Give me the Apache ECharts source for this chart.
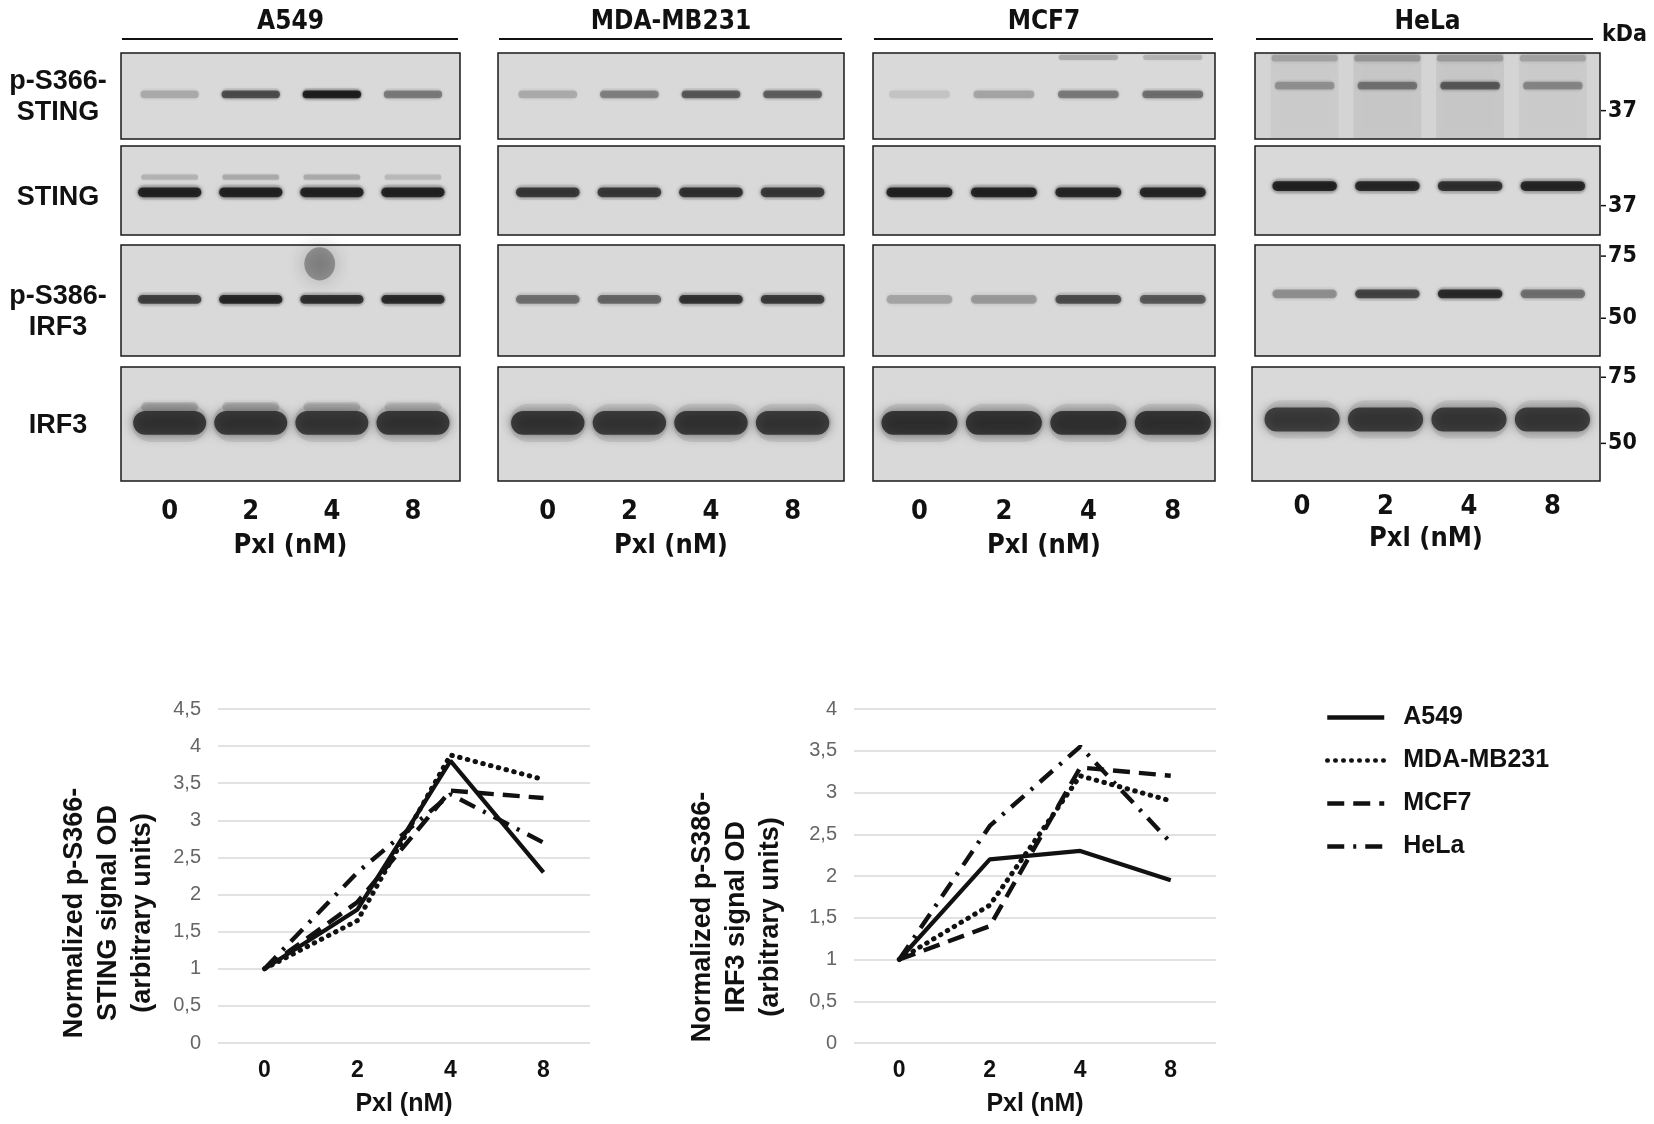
<!DOCTYPE html>
<html>
<head>
<meta charset="utf-8">
<script src="https://cdn.jsdelivr.net/npm/echarts@6/dist/echarts.min.js"></script>
<style>
  body { margin: 0; background: #fff; }
  #main { width: 1654px; height: 1124px; }
</style>
</head>
<body>
<div id="main"></div>
<script>
// ---- data ----
var doses = ['0', '2', '4', '8'];
var cellLines = ['A549', 'MDA-MB231', 'MCF7', 'HeLa'];
var rowLabels = ['p-S366-\nSTING', 'STING', 'p-S386-\nIRF3', 'IRF3'];

// band darkness per lane (0..1), one row per cell line
var pStingBands = [[0.22, 0.68, 0.97, 0.45], [0.22, 0.42, 0.62, 0.58], [0.10, 0.25, 0.45, 0.50], [0.30, 0.45, 0.58, 0.35]];
var stingBands  = [[0.95, 0.95, 0.95, 0.95], [0.80, 0.80, 0.85, 0.80], [0.95, 0.95, 0.92, 0.92], [0.95, 0.90, 0.85, 0.92]];
var pIrf3Bands  = [[0.75, 0.92, 0.85, 0.88], [0.50, 0.55, 0.82, 0.78], [0.25, 0.30, 0.68, 0.62], [0.35, 0.72, 0.88, 0.50]];
var irf3Bands   = [[0.93, 0.93, 0.92, 0.93], [0.93, 0.92, 0.94, 0.92], [0.96, 0.96, 0.95, 0.96], [0.88, 0.90, 0.90, 0.90]];

var mwLabels = [['37'], ['37'], ['75', '50'], ['75', '50']];

// densitometry, normalized
var stingA549 = [1, 1.8, 3.8, 2.3];
var stingMDA  = [1, 1.65, 3.88, 3.55];
var stingMCF7 = [1, 1.9, 3.4, 3.3];
var stingHeLa = [1, 2.3, 3.35, 2.7];

var irf3A549 = [1, 2.2, 2.3, 1.95];
var irf3MDA  = [1, 1.65, 3.2, 2.9];
var irf3MCF7 = [1, 1.4, 3.3, 3.2];
var irf3HeLa = [1, 2.6, 3.55, 2.4];

// ---- layout ----
var narrow = "'Liberation Sans Narrow', 'DejaVu Sans Condensed', 'Liberation Sans', sans-serif";
var sans = "'Liberation Sans', Arial, sans-serif";
var panelX = [[121, 460], [498, 844], [873, 1215], [1255, 1600]];
var panelY = [[53, 139], [146, 235], [245, 356], [367, 481]];
var laneRange = [[-0.6, 3.58], [-0.61, 3.63], [-0.55, 3.5], [-0.6, 3.57]];
var bandShape = [ {y: 0.48, h: 0.09, w: 0.72}, {y: 0.52, h: 0.11, w: 0.78}, {y: 0.49, h: 0.08, w: 0.78}, {y: 0.49, h: 0.21, w: 0.9} ];
var bandYHeLa = [0.38, 0.45, 0.44, 0.46];
var mwPos = [[0.67], [0.67], [0.10, 0.66], [0.09, 0.67]];
var allBands = [pStingBands, stingBands, pIrf3Bands, irf3Bands];

var chart = echarts.init(document.getElementById('main'));

var grids = [], xAxes = [], yAxes = [], series = [], graphics = [];

function bandRender(shape, yc, tone, soft) {
  var k = tone || 15;
  var s = soft || 1;
  return function (params, api) {
    var c = api.coord([api.value(0), yc]);
    var w = Math.abs(api.size([shape.w, 0])[0]);
    var h = Math.abs(api.size([0, shape.h])[1]);
    var a = api.value(1);
    var col = function (al) { return 'rgba(' + k + ',' + k + ',' + k + ',' + al + ')'; };
    return {
      type: 'group',
      children: [
        { type: 'rect', shape: { x: c[0] - w * 0.52, y: c[1] - h * 0.8, width: w * 1.04, height: h * 1.6, r: h * 0.8 },
          style: { fill: col(a * 0.1), shadowBlur: h * s, shadowColor: col(a * 0.12) } },
        { type: 'rect', shape: { x: c[0] - w / 2, y: c[1] - h / 2, width: w, height: h, r: h / 2 },
          style: { fill: col(a * 0.85), shadowBlur: Math.max(3, h * 0.45 * s), shadowColor: col(a * 0.75) } }
      ]
    };
  };
}

// diffuse spot (no hard edge)
function blobRender(shape, yc) {
  return function (params, api) {
    var c = api.coord([api.value(0), yc]);
    var w = Math.abs(api.size([shape.w, 0])[0]);
    var h = Math.abs(api.size([0, shape.h])[1]);
    var a = api.value(1);
    return { type: 'ellipse', shape: { cx: c[0], cy: c[1], rx: w / 2, ry: h / 2 },
      style: { fill: 'rgba(30,30,30,' + (a * 0.5) + ')', shadowBlur: 18, shadowColor: 'rgba(30,30,30,' + a + ')' } };
  };
}

function smearRender(shape) {
  return function (params, api) {
    var c = api.coord([api.value(0), 0]);
    var w = Math.abs(api.size([shape.w, 0])[0]);
    var h = params.coordSys.height;
    return { type: 'rect', shape: { x: c[0] - w / 2, y: params.coordSys.y, width: w, height: h },
      style: { fill: 'rgba(60,60,60,' + api.value(1) + ')', shadowBlur: 8, shadowColor: 'rgba(60,60,60,' + api.value(1) + ')' } };
  };
}

var g = 0;
for (var c = 0; c < 4; c++) {
  for (var r = 0; r < 4; r++) {
    var x0 = panelX[c][0];
    if (c === 3 && r === 3) x0 = 1252;
    var bottomRow = r === 3;
    grids.push({ left: x0, top: panelY[r][0], width: panelX[c][1] - x0, height: panelY[r][1] - panelY[r][0],
      show: true, borderColor: '#1a1a1a', borderWidth: 1.5,
      backgroundColor: (c === 3 && r === 0) ? '#d4d4d4' : '#d9d9d9' });
    xAxes.push({ type: 'value', gridIndex: g, min: laneRange[c][0], max: laneRange[c][1],
      show: bottomRow, axisLine: { show: false }, axisTick: { show: false }, splitLine: { show: false },
      axisLabel: { show: bottomRow, customValues: [0, 1, 2, 3], formatter: function (v) { return doses[Math.round(v)]; },
        margin: c === 3 ? 12 : 17, fontFamily: narrow, fontWeight: 'bold', fontSize: 27, color: '#111' },
      name: bottomRow ? 'Pxl (nM)' : '', nameLocation: 'middle', nameGap: c === 3 ? 44 : 51,
      nameTextStyle: { fontFamily: narrow, fontWeight: 'bold', fontSize: 27, color: '#111' } });
    yAxes.push({ type: 'value', gridIndex: g, min: 0, max: 1, inverse: true, show: false });
    var yc = (c === 3) ? bandYHeLa[r] : bandShape[r].y;
    series.push({ type: 'custom', xAxisIndex: g, yAxisIndex: g, silent: true, z: 3,
      renderItem: bandRender(bandShape[r], yc, r === 3 ? 32 : 15),
      data: allBands[r][c].map(function (v, i) { return [i, v]; }) });
    g++;
  }
  // title + line
  graphics.push({ type: 'text', x: (panelX[c][0] + panelX[c][1]) / 2, y: 22,
    style: { text: cellLines[c], fontFamily: narrow, fontWeight: 'bold', fontSize: 26, fill: '#111', align: 'center', verticalAlign: 'middle' } });
  graphics.push({ type: 'line', shape: { x1: panelX[c][0] + 1, y1: 39, x2: panelX[c][1] - (c === 3 ? 7 : 2), y2: 39 },
    style: { stroke: '#111', lineWidth: 2 } });
}

// row labels
var rowLabelY = [97, 198, 312, 426];
rowLabels.forEach(function (t, i) {
  graphics.push({ type: 'text', x: 58, y: rowLabelY[i],
    style: { text: t, fontFamily: sans, fontWeight: 'bold', fontSize: 27, lineHeight: 31, fill: '#111', align: 'center', verticalAlign: 'middle' } });
});

// kDa and MW markers
graphics.push({ type: 'text', x: 1602, y: 35, style: { text: 'kDa', fontFamily: narrow, fontWeight: 'bold', fontSize: 23, fill: '#111', align: 'left', verticalAlign: 'middle' } });
mwLabels.forEach(function (labs, r) {
  labs.forEach(function (t, k) {
    var y = panelY[r][0] + mwPos[r][k] * (panelY[r][1] - panelY[r][0]);
    graphics.push({ type: 'line', shape: { x1: 1601, y1: y, x2: 1606, y2: y }, style: { stroke: '#111', lineWidth: 1.5 } });
    graphics.push({ type: 'text', x: 1608, y: y, style: { text: t, fontFamily: narrow, fontWeight: 'bold', fontSize: 23, fill: '#111', align: 'left', verticalAlign: 'middle' } });
  });
});

// faint extra bands / smears seen on a few blots
series.push({ type: 'custom', xAxisIndex: 12, yAxisIndex: 12, silent: true, z: 2, renderItem: smearRender({ w: 0.82 }),
  data: [[0, 0.06], [1, 0.08], [2, 0.08], [3, 0.06]] });
series.push({ type: 'custom', xAxisIndex: 12, yAxisIndex: 12, silent: true, z: 2, renderItem: bandRender({ w: 0.8, h: 0.08 }, 0.06, 40, 2),
  data: [[0, 0.25], [1, 0.3], [2, 0.28], [3, 0.25]] });
series.push({ type: 'custom', xAxisIndex: 8, yAxisIndex: 8, silent: true, z: 2, renderItem: bandRender({ w: 0.7, h: 0.06 }, 0.05),
  data: [[2, 0.22], [3, 0.18]] });
series.push({ type: 'custom', xAxisIndex: 1, yAxisIndex: 1, silent: true, z: 2, renderItem: bandRender({ w: 0.7, h: 0.06 }, 0.35),
  data: [[0, 0.18], [1, 0.22], [2, 0.22], [3, 0.15]] });
series.push({ type: 'custom', xAxisIndex: 3, yAxisIndex: 3, silent: true, z: 2, renderItem: bandRender({ w: 0.7, h: 0.08 }, 0.35),
  data: [[0, 0.2], [1, 0.18], [2, 0.15], [3, 0.12]] });
series.push({ type: 'custom', xAxisIndex: 2, yAxisIndex: 2, silent: true, z: 2, renderItem: blobRender({ w: 0.38, h: 0.3 }, 0.17),
  data: [[1.85, 0.7]] });

// ---- line charts ----
var lineGrid1 = grids.length;
grids.push({ left: 218, top: 709, width: 372, height: 334 });
grids.push({ left: 854, top: 709, width: 362, height: 334 });

function makeX(gi) {
  return { type: 'category', gridIndex: gi, data: doses, boundaryGap: true,
    axisLine: { show: false }, axisTick: { show: false },
    axisLabel: { fontFamily: sans, fontWeight: 'bold', fontSize: 23, color: '#111', margin: 16 },
    name: 'Pxl (nM)', nameLocation: 'middle', nameGap: 49,
    nameTextStyle: { fontFamily: sans, fontWeight: 'bold', fontSize: 25, color: '#111' } };
}
function makeY(gi, max) {
  return { type: 'value', gridIndex: gi, min: 0, max: max, interval: 0.5,
    axisLine: { show: false }, axisTick: { show: false },
    splitLine: { lineStyle: { color: '#d9d9d9', width: 1.5 } },
    axisLabel: { fontFamily: sans, fontSize: 20, color: '#666', margin: 17,
      formatter: function (v) { return String(v).replace('.', ','); } } };
}
xAxes.push(makeX(lineGrid1), makeX(lineGrid1 + 1));
yAxes.push(makeY(lineGrid1, 4.5), makeY(lineGrid1 + 1, 4));

var styles = {
  'A549': { type: 'solid', width: 4.2 },
  'MDA-MB231': { type: [0.5, 7.5], cap: 'round', width: 5 },
  'MCF7': { type: [17, 9], width: 4.4 },
  'HeLa': { type: [17, 9, 3, 9], width: 4.4 }
};
var stingSets = [stingA549, stingMDA, stingMCF7, stingHeLa];
var irf3Sets = [irf3A549, irf3MDA, irf3MCF7, irf3HeLa];
cellLines.forEach(function (name, i) {
  var ls = Object.assign({ color: '#111' }, styles[name]);
  series.push({ name: name, type: 'line', xAxisIndex: lineGrid1, yAxisIndex: lineGrid1, data: stingSets[i],
    symbol: 'none', lineStyle: ls, itemStyle: { color: '#111' }, z: 10 - i });
  series.push({ name: name, type: 'line', xAxisIndex: lineGrid1 + 1, yAxisIndex: lineGrid1 + 1, data: irf3Sets[i],
    symbol: 'none', lineStyle: ls, itemStyle: { color: '#111' }, z: 10 - i });
});

graphics.push({ type: 'text', x: 109, y: 913, rotation: Math.PI / 2,
  style: { text: 'Normalized p-S366-\nSTING signal OD\n(arbitrary units)', fontFamily: sans, fontWeight: 'bold', fontSize: 27, lineHeight: 34, fill: '#111', align: 'center', verticalAlign: 'middle' } });
graphics.push({ type: 'text', x: 737, y: 917, rotation: Math.PI / 2,
  style: { text: 'Normalized p-S386-\nIRF3 signal OD\n(arbitrary units)', fontFamily: sans, fontWeight: 'bold', fontSize: 27, lineHeight: 34, fill: '#111', align: 'center', verticalAlign: 'middle' } });

chart.setOption({
  backgroundColor: '#fff',
  animation: false,
  grid: grids,
  xAxis: xAxes,
  yAxis: yAxes,
  legend: { data: cellLines, orient: 'vertical', left: 1320, top: 700, itemWidth: 57, itemHeight: 24, itemGap: 18,
    itemStyle: { opacity: 0, color: 'rgba(0,0,0,0)', borderColor: 'rgba(0,0,0,0)', borderWidth: 0 },
    lineStyle: { width: 4.5 },
    textStyle: { fontFamily: sans, fontWeight: 'bold', fontSize: 25, color: '#111', padding: [0, 0, 0, 14] } },
  series: series,
  graphic: graphics
});
</script>
</body>
</html>
